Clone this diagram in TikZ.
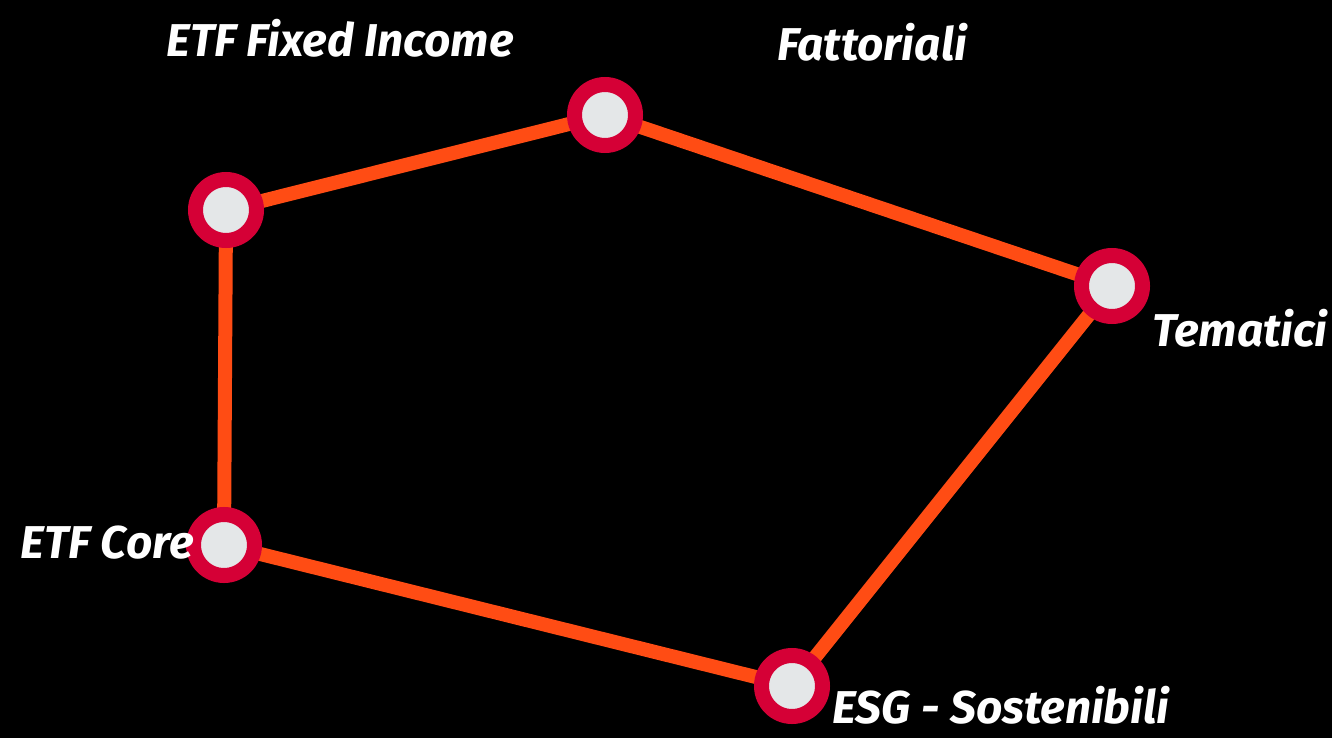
\documentclass[tikz,border=0pt]{standalone}
\usepackage{fontspec}
\newfontfamily\lblfont{Fira Sans}
\usetikzlibrary{backgrounds}
\definecolor{bgc}{HTML}{000000}
\definecolor{ringred}{HTML}{D50036}
\definecolor{linkor}{HTML}{FF4C14}
\definecolor{dotgray}{HTML}{E4E7E8}
\tikzset{
  stop/.style={circle, fill=dotgray, draw=ringred, line width=15pt, minimum size=61pt, inner sep=0pt},
  link/.style={draw=linkor, line width=14pt},
  lbl/.style={text=white, font=\lblfont\bfseries\itshape\fontsize{46}{48}\selectfont, inner sep=0pt}
}
\begin{document}
\begin{tikzpicture}[x=1pt,y=-1pt]
\begin{scope}[on background layer]
\fill[bgc] (0,0) rectangle (1332,738);
\end{scope}
\useasboundingbox (0,0) rectangle (1332,738);
\node[stop] (fi) at (226,210) {};
\node[stop] (fa) at (605,115) {};
\node[stop] (te) at (1112,286) {};
\node[stop] (es) at (792,686) {};
\node[stop] (co) at (224,545) {};
\begin{scope}[on background layer]
\draw[link] (fi.center) -- (fa.center);
\draw[link] (fa.center) -- (te.center);
\draw[link] (te.center) -- (es.center);
\draw[link] (es.center) -- (co.center);
\draw[link] (co.center) -- (fi.center);
\end{scope}
\node[lbl] (lfi) at (340,38) {ETF Fixed Income};
\node[lbl] (lfa) at (872,42) {Fattoriali};
\node[lbl] (lte) at (1240,328) {Tematici};
\node[lbl, anchor=base] (les) at (1001,723) {ESG - Sostenibili};
\node[lbl] (lco) at (107,543) {ETF Core};
\end{tikzpicture}
\end{document}
